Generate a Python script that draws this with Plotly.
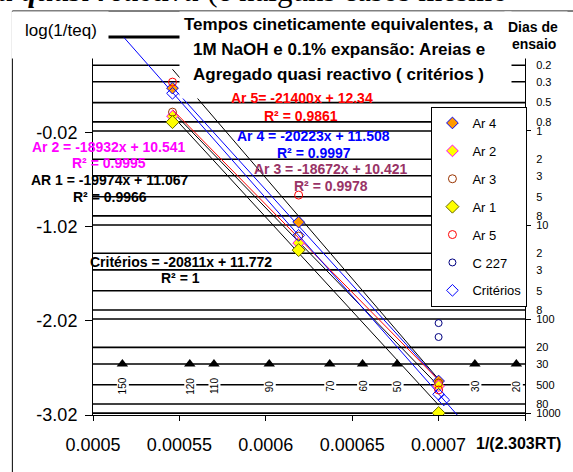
import math
import plotly.graph_objects as go

# ---------------- data ----------------
x_ar = [0.000546, 0.000619, 0.0007]
y_ar4 = [0.455, -0.969, -2.659]
y_ar2 = [0.157, -1.192, -2.712]
y_ar3 = [0.200, -1.118, -2.680]
y_ar1 = [0.094, -1.267, -2.999]
y_ar5 = [0.519, -0.682, -2.754]
x_c227 = [0.0007, 0.0007]
y_c227 = [-2.043, -2.191]
x_crit = [0.000546, 0.000619, 0.0007, 0.000703]
y_crit = [0.40, -1.11, -2.80, -2.86]

trend_labels = ["Ar 5=", "Ar 4 =", "Ar 3 =", "Ar 2 =", "AR 1 =", "Critérios ="]
trend_slope = [-21400, -20223, -18672, -18932, -19974, -20811]
trend_icpt = [12.34, 11.508, 10.421, 10.541, 11.067, 11.772]
trend_r2 = ["0.9861", "0.9997", "0.9978", "0.9995", "0.9966", "1"]
trend_x_start = [0.000546, 0.000546, 0.000546, 0.000546, 0.000546, 0.000518]
trend_x_end = [0.0007, 0.0007, 0.0007, 0.0007, 0.0007, 0.000711]

temp_labels = ["150", "120", "110", "90", "70", "60", "50", "30", "20"]
temp_x = [0.000517, 0.000556, 0.000570, 0.000602, 0.000637, 0.000656, 0.000676, 0.000721, 0.000745]
temp_day = 300

day_levels = [0.1, 0.2, 0.3, 0.5, 0.8, 1, 2, 3, 5, 8, 10, 20, 30, 50, 80, 100, 200, 300, 500, 800, 1000]
day_tick_days = [0.2, 0.3, 0.5, 0.8, 1, 2, 3, 5, 8, 10, 20, 30, 50, 80, 100, 200, 300, 500, 800, 1000]
day_tick_labels = ["0.2", "0.3", "0.5", "0.8", "1", "2", "3", "5", "8", "10", "2", "3", "5", "8",
                   "100", "20", "30", "500", "80", "1000"]
day_major = [1, 10, 100, 1000]

x_tickvals = [0.0005, 0.00055, 0.0006, 0.00065, 0.0007, 0.00075]
x_ticktext = ["0.0005", "0.00055", "0.0006", "0.00065", "0.0007", ""]
y_tickvals = [-3.02, -2.02, -1.02, -0.02]
y_ticktext = ["-3.02", "-2.02", "-1.02", "-0.02"]

# ---------------- geometry helpers ----------------
W, H = 573, 472
ML, MR, MT, MB = 93, 46, 35, 57
X0, X1 = 0.0005, 0.00075
Y0, Y1 = -3.02, 1.02
PW = W - ML - MR
PH = H - MT - MB


def px_y(py):
    return Y1 - (py - MT) / PH * (Y1 - Y0)


def paper_x(px):
    return (px - ML) / PW


def paper_y(py):
    return (H - MB - py) / PH


FONT = "Liberation Sans, Arial, sans-serif"
fig = go.Figure()

# horizontal "days" reference lines
for d in day_levels:
    v = -math.log10(d)
    fig.add_trace(go.Scatter(x=[X0, X1], y=[v, v], mode="lines",
                             line=dict(color="black", width=3 if d == day_levels[0] else 1.6),
                             showlegend=False, hoverinfo="skip"))

# trendlines
trend_colors = ["black", "#0000FF", "#FF0000", "black", "black", "#0000FF"]
for lab, m, b, xs, xe, c in zip(trend_labels, trend_slope, trend_icpt, trend_x_start, trend_x_end, trend_colors):
    fig.add_trace(go.Scatter(x=[xs, xe], y=[m * xs + b, m * xe + b], mode="lines",
                             line=dict(color=c, width=1), showlegend=False, hoverinfo="skip"))

# temperature markers
fig.add_trace(go.Scatter(x=temp_x, y=[-math.log10(temp_day)] * len(temp_x), mode="markers",
                         marker=dict(symbol="triangle-up", size=10, color="black"),
                         showlegend=False, hoverinfo="skip"))

# data series
series = [
    ("Ar 4", x_ar, y_ar4, dict(symbol="diamond", size=9, color="#FF9900", line=dict(color="#0000FF", width=1))),
    ("Ar 2", x_ar, y_ar2, dict(symbol="diamond", size=9, color="#FFFF00", line=dict(color="#FF00FF", width=1))),
    ("Ar 3", x_ar, y_ar3, dict(symbol="circle-open", size=8, color="#993300", line=dict(width=1))),
    ("Ar 1", x_ar, y_ar1, dict(symbol="diamond", size=10, color="#FFFF00", line=dict(color="#666600", width=1))),
    ("Ar 5", x_ar, y_ar5, dict(symbol="circle-open", size=8, color="#FF0000", line=dict(width=1))),
    ("C 227", x_c227, y_c227, dict(symbol="circle-open", size=7, color="#000080", line=dict(width=1))),
    ("Critérios", x_crit, y_crit, dict(symbol="diamond-open", size=9, color="#0000FF", line=dict(width=1))),
]
for name, xs, ys, mk in series:
    fig.add_trace(go.Scatter(x=xs, y=ys, mode="markers", name=name, legendgroup=name, marker=mk))

# helper traces so that the right-hand axes are drawn
fig.add_trace(go.Scatter(x=[0.0006], y=[0], yaxis="y2", mode="markers", marker=dict(opacity=0),
                         showlegend=False, hoverinfo="skip"))
fig.add_trace(go.Scatter(x=[0.0006], y=[0], yaxis="y3", mode="markers", marker=dict(opacity=0),
                         showlegend=False, hoverinfo="skip"))

ann = []


def text_at(px, py, text, size, color="black", bold=False, **kw):
    t = f"<b>{text}</b>" if bold else text
    d = dict(xref="paper", yref="paper", x=paper_x(px), y=paper_y(py), text=t, showarrow=False,
             font=dict(family=FONT, size=size, color=color), xanchor="center", yanchor="middle")
    d.update(kw)
    ann.append(d)


# white boxes (title, axis title, right-axis title)
text_at(347, 55, " ", 10, width=329, height=84, bgcolor="white")
text_at(60, 35, " ", 10, width=94, height=44, bgcolor="white")
text_at(538, 35, " ", 10, width=60, height=44, bgcolor="white")

# chart title
text_at(340, 24, "Tempos cineticamente equivalentes, a", 17, bold=True)
text_at(340, 49, "1M NaOH e 0.1% expansão: Areias e", 17, bold=True)
text_at(340, 74, "Agregado quasi reactivo ( critérios )", 17, bold=True)
text_at(61, 30, "log(1/teq)", 17)
text_at(535, 27, "Dias de", 14, bold=True)
text_at(536, 44, "ensaio", 14, bold=True)
text_at(520, 443, "1/(2.303RT)", 16, bold=True)

# equation labels
eq_colors = ["#FF0000", "#0000FF", "#993366", "#FF00FF", "black", "black"]
eq_pos = [(303, 98, 302, 116), (315, 136, 315, 153), (332, 169, 332, 186),
          (109, 147, 109, 163), (110, 180, 110, 197), (181, 262, 181, 278)]
for lab, m, b, r2, c, (ex, ey, rx, ry) in zip(trend_labels, trend_slope, trend_icpt, trend_r2, eq_colors, eq_pos):
    text_at(ex, ey, f"{lab} {m}x + {b}", 14, color=c, bold=True)
    text_at(rx, ry, f"R² = {r2}", 14, color=c, bold=True)

# temperature labels
for tx, tl in zip(temp_x, temp_labels):
    ann.append(dict(xref="x", yref="y", x=tx, y=px_y(386), text=tl, textangle=-90, showarrow=False,
                    font=dict(family=FONT, size=10, color="black"), bgcolor="white", borderpad=0))

# cut-off page text at top
ann.append(dict(xref="paper", yref="paper", x=paper_x(-4), y=paper_y(10), xanchor="left", yanchor="bottom",
                text="<b><i>a quasi reactiva</i></b> (e nalguns casos mesmo", showarrow=False,
                font=dict(family="Liberation Serif, Times New Roman, serif", size=31, color="black")))

fig.update_layout(
    width=W, height=H, margin=dict(l=ML, r=MR, t=MT, b=MB, pad=0),
    paper_bgcolor="white", plot_bgcolor="white",
    font=dict(family=FONT, color="black"),
    xaxis=dict(range=[X0, X1], tickvals=x_tickvals, ticktext=x_ticktext, showline=True, linecolor="black",
               linewidth=1, ticks="outside", ticklen=5, tickcolor="black", showgrid=False, zeroline=False,
               tickfont=dict(size=18), ticklabelstandoff=8),
    yaxis=dict(range=[Y0, Y1], tickvals=y_tickvals, ticktext=y_ticktext, showline=True, linecolor="black",
               linewidth=1, ticks="outside", ticklen=7, tickcolor="black", showgrid=False, zeroline=False,
               tickfont=dict(size=18), ticklabelstandoff=4),
    yaxis2=dict(overlaying="y", side="right", anchor="x", range=[Y0, Y1],
                tickvals=[-math.log10(d) for d in day_tick_days], ticktext=day_tick_labels,
                showline=True, linecolor="black", linewidth=1, ticks="", showgrid=False, zeroline=False,
                tickfont=dict(size=11), ticklabelstandoff=8),
    yaxis3=dict(overlaying="y", side="right", anchor="x", range=[Y0, Y1],
                tickvals=[-math.log10(d) for d in day_major], ticks="outside", ticklen=5, tickcolor="black",
                showticklabels=False, showgrid=False, zeroline=False, showline=False),
    legend=dict(x=paper_x(433), y=paper_y(107), xanchor="left", yanchor="top", bgcolor="white",
                bordercolor="black", borderwidth=1, font=dict(family=FONT, size=13), tracegroupgap=8,
                itemwidth=30, traceorder="grouped"),
    annotations=ann,
    shapes=[dict(type="rect", xref="paper", yref="paper", x0=paper_x(12), x1=paper_x(600),
                 y0=paper_y(520), y1=paper_y(11), line=dict(color="black", width=1), layer="above")],
)

fig.write_html("out.html")
